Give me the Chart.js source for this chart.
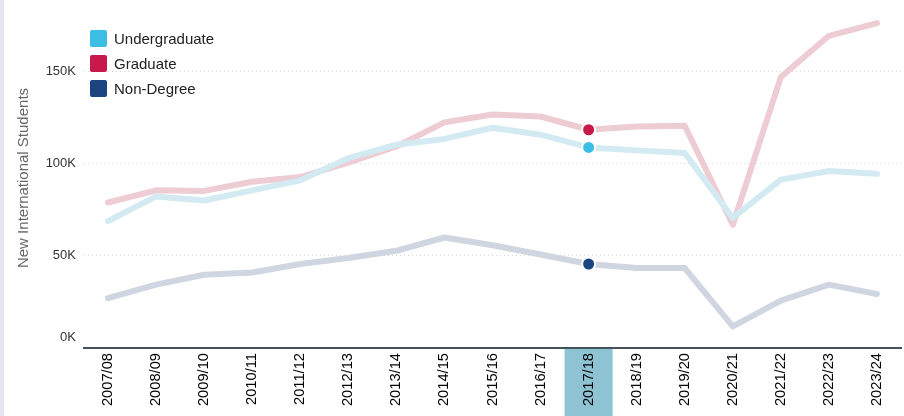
<!DOCTYPE html>
<html>
<head>
<meta charset="utf-8">
<script src="https://cdn.jsdelivr.net/npm/chart.js@4"></script>
<style>
  html, body { margin: 0; padding: 0; background: #fff; }
  #wrap { position: relative; width: 904px; height: 416px; overflow: hidden; }
  #strip { position: absolute; left: 0; top: 0; width: 4px; height: 416px; background: #e4e7eb; }
  canvas { position: absolute; left: 0; top: 0; }
  #legend { position: absolute; left: 90px; top: 30px; font-family: "Liberation Sans", Arial, sans-serif; font-size: 15px; color: #222; }
  .item { height: 17px; line-height: 17px; margin-bottom: 8px; display: flex; align-items: center; }
  .sw { width: 17px; height: 17px; border-radius: 2px; margin-right: 7px; }
</style>
</head>
<body>
<div id="wrap">
  <canvas id="c" width="904" height="416"></canvas>
  <div id="strip"></div>
  <div id="legend"></div>
</div>
<script>
const categories = ['2007/08','2008/09','2009/10','2010/11','2011/12','2012/13','2013/14','2014/15','2015/16','2016/17','2017/18','2018/19','2019/20','2020/21','2021/22','2022/23','2023/24'];
const undergraduate = [68900, 82300, 80100, 85600, 91000, 103100, 110400, 113500, 119600, 115800, 108900, 107300, 105900, 70600, 91400, 96100, 94600];
const graduate = [79000, 85600, 85300, 90300, 92800, 100600, 109400, 122500, 126800, 125700, 118500, 120300, 120700, 66900, 147100, 169500, 176400];
const nonDegree = [27100, 34400, 39800, 41000, 45600, 48900, 52800, 60000, 55800, 50800, 45600, 43400, 43400, 11700, 25700, 34400, 29300];
const seriesNames = ['Undergraduate', 'Graduate', 'Non-Degree'];
const yTicks = [0, 50000, 100000, 150000];
const yTickLabels = ['0K', '50K', '100K', '150K'];
const highlightIndex = 10;

const solid = ['#3bbde4', '#c8194a', '#1b4480'];
const faded = ['#d3eaf2', '#eeccd4', '#cfd5e1'];
const FONT = '"Liberation Sans", Arial, sans-serif';

// HTML legend
const legend = document.getElementById('legend');
seriesNames.forEach((n, i) => {
  const d = document.createElement('div');
  d.className = 'item';
  d.innerHTML = '<span class="sw" style="background:' + solid[i] + '"></span><span>' + n + '</span>';
  legend.appendChild(d);
});

const bandPlugin = {
  id: 'band',
  beforeDraw(chart) {
    const x = chart.scales.x;
    const ctx = chart.ctx;
    const w = (x.right - x.left) / categories.length;
    const cx = x.getPixelForValue(highlightIndex);
    ctx.save();
    ctx.fillStyle = '#8ec3d3';
    ctx.fillRect(cx - w / 2, chart.chartArea.bottom, w, chart.height - chart.chartArea.bottom);
    ctx.restore();
  }
};

const yLabelPlugin = {
  id: 'ylabels',
  afterDraw(chart) {
    const y = chart.scales.y;
    const ctx = chart.ctx;
    ctx.save();
    ctx.font = '13px ' + FONT;
    ctx.fillStyle = '#333';
    ctx.textAlign = 'right';
    ctx.textBaseline = 'middle';
    yTicks.forEach((v, i) => {
      let py = y.getPixelForValue(v);
      if (v === 0) py -= 11;
      ctx.fillText(yTickLabels[i], 76, py);
    });
    ctx.restore();
  }
};

const mk = (label, data, i) => ({
  label, data,
  borderColor: faded[i],
  backgroundColor: solid[i],
  borderWidth: 6,
  borderCapStyle: 'round',
  borderJoinStyle: 'round',
  tension: 0,
  pointRadius: (c) => c.dataIndex === highlightIndex ? 6.5 : 0,
  pointBackgroundColor: solid[i],
  pointBorderColor: '#fff',
  pointBorderWidth: 2,
  clip: false
});

new Chart(document.getElementById('c'), {
  type: 'line',
  data: {
    labels: categories,
    datasets: [
      mk(seriesNames[0], undergraduate, 0),
      mk(seriesNames[1], graduate, 1),
      mk(seriesNames[2], nonDegree, 2)
    ]
  },
  plugins: [bandPlugin, yLabelPlugin],
  options: {
    responsive: false,
    animation: false,
    events: [],
    layout: { padding: { top: 8, right: 3, bottom: 0, left: 0 } },
    plugins: { legend: { display: false }, tooltip: { enabled: false } },
    scales: {
      x: {
        offset: true,
        grid: { display: false, drawTicks: false },
        border: { display: true, color: '#44525e', width: 2 },
        ticks: { autoSkip: false, maxRotation: 90, minRotation: 90, padding: 5, color: '#000', font: { family: FONT, size: 14.7 } },
        afterFit: (s) => { s.height = 68; }
      },
      y: {
        min: 0,
        max: 184600,
        ticks: { display: false, stepSize: 50000 },
        afterBuildTicks: (s) => { s.ticks = yTicks.map(v => ({ value: v })); },
        grid: { color: '#d9d9d9', lineWidth: 1, drawTicks: false },
        border: { display: false, dash: [1, 3] },
        title: { display: true, text: 'New International Students', color: '#666', font: { family: FONT, size: 15 }, padding: { top: 15, bottom: 0 } },
        afterFit: (s) => { s.width = 84; }
      }
    }
  }
});
</script>
</body>
</html>
